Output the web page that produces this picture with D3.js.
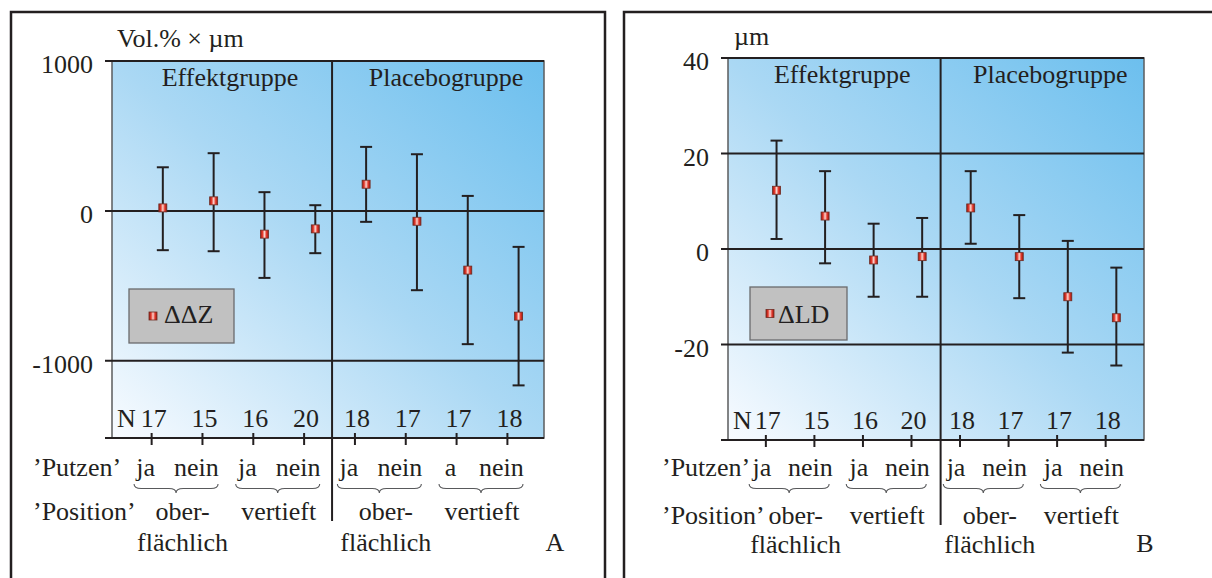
<!DOCTYPE html>
<html>
<head>
<meta charset="utf-8">
<script src="https://cdn.jsdelivr.net/npm/d3@7"></script>
<style>
  html, body { margin: 0; padding: 0; background: #fff; }
  svg { display: block; }
  svg text { font-family: "Liberation Serif", "Times New Roman", Times, "DejaVu Serif", "Noto Serif", serif; }
</style>
</head>
<body>
<svg id="chart" width="1212" height="578"></svg>
<script>
// ---- data ----
const groupNames = ["Effektgruppe", "Placebogruppe"];
const nCounts = [17, 15, 16, 20, 18, 17, 17, 18];
const putzenLabelsA = ["ja", "nein", "ja", "nein", "ja", "nein", "a", "nein"];
const putzenLabelsB = ["ja", "nein", "ja", "nein", "ja", "nein", "ja", "nein"];
const positionLines = [["ober-", "flächlich"], ["vertieft"], ["ober-", "flächlich"], ["vertieft"]];

// A: ΔΔZ (Vol.% × µm) — mean with upper / lower error limits
const meanA  = [20, 67, -155, -120, 178, -69, -395, -702];
const upperA = [291, 385, 125, 38, 427, 378, 100, -240];
const lowerA = [-262, -269, -447, -282, -73, -529, -889, -1164];
const yTicksA = [1000, 0, -1000];

// B: ΔLD (µm)
const meanB  = [12.3, 6.9, -2.3, -1.6, 8.6, -1.6, -10.0, -14.4];
const upperB = [22.7, 16.3, 5.3, 6.5, 16.3, 7.1, 1.7, -3.9];
const lowerB = [2.1, -3.0, -10.0, -10.0, 1.1, -10.3, -21.7, -24.4];
const yTicksB = [40, 20, 0, -20];

// ---- layout ----
const INK = "#231f20";
const FONT = "'Liberation Serif', 'Times New Roman', Times, 'DejaVu Serif', serif";
const svg = d3.select("#chart").attr("font-family", FONT);
const defs = svg.append("defs");

const bg = defs.append("linearGradient").attr("id", "plotBg")
  .attr("x1", 0).attr("y1", 1).attr("x2", 1).attr("y2", 0);
bg.append("stop").attr("offset", 0).attr("stop-color", "#f8fbff");
bg.append("stop").attr("offset", 0.5).attr("stop-color", "#aad8f4");
bg.append("stop").attr("offset", 1).attr("stop-color", "#6cbfee");

const mk = defs.append("linearGradient").attr("id", "markerFill")
  .attr("x1", 0).attr("y1", 0).attr("x2", 1).attr("y2", 0);
[[0, "#9b1b12"], [0.25, "#e2372a"], [0.5, "#fbd6d0"], [0.75, "#e2372a"], [1, "#9b1b12"]]
  .forEach(([o, c]) => mk.append("stop").attr("offset", o).attr("stop-color", c));

const panels = [
  {
    frameX: 11, frameRight: 605,
    plot: { left: 112, right: 544, top: 61, bottom: 438 },
    xDomain: [-1, 7.5], divider: 3.33, dividerEnd: 521,
    yDomain: [-1515, 1000], yTicks: yTicksA,
    mean: meanA, upper: upperA, lower: lowerA, putzen: putzenLabelsA,
    unit: "Vol.% × µm", unitX: 117, unitY: 47,
    legend: { label: "ΔΔZ", x: 129, y: 289, w: 105, h: 54, mx: 153, tx: 164, ty: 323 },
    letter: "A", letterX: 555, letterY: 551,
    rowLabelX: 33, putzenNudge: -6, braceHalf: 42,
    positionY: 520, flaechY: 551
  },
  {
    frameX: 624, frameRight: 1240,
    plot: { left: 728, right: 1144, top: 58, bottom: 440 },
    xDomain: [-1, 7.57], divider: 3.38, dividerEnd: 525,
    yDomain: [-40, 40], yTicks: yTicksB,
    mean: meanB, upper: upperB, lower: lowerB, putzen: putzenLabelsB,
    unit: "µm", unitX: 734, unitY: 45,
    legend: { label: "ΔLD", x: 750, y: 287, w: 97, h: 53, mx: 770, tx: 778, ty: 323 },
    letter: "B", letterX: 1145, letterY: 552,
    rowLabelX: 662, putzenNudge: -4, braceHalf: 40,
    positionY: 524, flaechY: 553
  }
];

function bracePath(x0, x1, yTop, h) {
  const xm = (x0 + x1) / 2, yMid = yTop + h / 2, yTip = yTop + h, r = h * 0.8;
  return `M${x0},${yTop} Q${x0},${yMid} ${x0 + r},${yMid} L${xm - r},${yMid} ` +
         `Q${xm},${yMid} ${xm},${yTip} Q${xm},${yMid} ${xm + r},${yMid} ` +
         `L${x1 - r},${yMid} Q${x1},${yMid} ${x1},${yTop}`;
}

function label(g, x, y, t, anchor) {
  return g.append("text").attr("x", x).attr("y", y)
    .attr("text-anchor", anchor || "start")
    .attr("font-family", FONT).attr("font-size", 26).attr("fill", INK)
    .text(t);
}

panels.forEach(p => {
  const g = svg.append("g");
  const P = p.plot;
  const x = d3.scaleLinear().domain(p.xDomain).range([P.left, P.right]);
  const y = d3.scaleLinear().domain(p.yDomain).range([P.bottom, P.top]);
  const idx = d3.range(nCounts.length);
  const tickX = i => x(i - 0.22);
  const tickLeft = P.left - 7;

  // outer frame
  g.append("path")
    .attr("d", `M${p.frameX},600 L${p.frameX},12 L${p.frameRight},12 L${p.frameRight},600`)
    .attr("fill", "none").attr("stroke", INK).attr("stroke-width", 2.5);

  // plot background
  g.append("rect")
    .attr("x", P.left).attr("y", P.top)
    .attr("width", P.right - P.left).attr("height", P.bottom - P.top)
    .attr("fill", "url(#plotBg)").attr("stroke", "#5b5c5e").attr("stroke-width", 1.5);

  // horizontal grid lines with left ticks (incl. unlabeled bottom tick)
  const gridVals = p.yTicks.concat([p.yDomain[0]]);
  g.selectAll(".grid").data(gridVals).join("line")
    .attr("x1", tickLeft).attr("x2", P.right)
    .attr("y1", d => y(d)).attr("y2", d => y(d))
    .attr("stroke", INK).attr("stroke-width", 2);

  // y tick labels
  p.yTicks.forEach(v => label(g, tickLeft - 12, y(v) + 12, String(v), "end"));

  // unit label
  label(g, p.unitX, p.unitY, p.unit);

  // group divider
  g.append("line")
    .attr("x1", x(p.divider)).attr("x2", x(p.divider))
    .attr("y1", P.top).attr("y2", p.dividerEnd)
    .attr("stroke", INK).attr("stroke-width", 2);

  // group names
  const regions = [[P.left, x(p.divider)], [x(p.divider), P.right]];
  groupNames.forEach((name, i) =>
    label(g, (regions[i][0] + regions[i][1]) / 2 + 8, P.top + 25, name, "middle"));

  // x ticks
  g.selectAll(".xt").data(idx).join("line")
    .attr("x1", tickX).attr("x2", tickX)
    .attr("y1", P.bottom - 5).attr("y2", P.bottom + 7)
    .attr("stroke", INK).attr("stroke-width", 2);

  // N counts
  label(g, P.left + 5, P.bottom - 11, "N");
  nCounts.forEach((n, i) => label(g, tickX(i) + 2, P.bottom - 11, n, "middle"));

  // error bars
  const cap = 6;
  const eb = g.selectAll(".eb").data(idx).join("g");
  eb.append("line")
    .attr("x1", i => x(i)).attr("x2", i => x(i))
    .attr("y1", i => y(p.upper[i])).attr("y2", i => y(p.lower[i]))
    .attr("stroke", INK).attr("stroke-width", 2);
  eb.append("line")
    .attr("x1", i => x(i) - cap).attr("x2", i => x(i) + cap)
    .attr("y1", i => y(p.upper[i])).attr("y2", i => y(p.upper[i]))
    .attr("stroke", INK).attr("stroke-width", 2);
  eb.append("line")
    .attr("x1", i => x(i) - cap).attr("x2", i => x(i) + cap)
    .attr("y1", i => y(p.lower[i])).attr("y2", i => y(p.lower[i]))
    .attr("stroke", INK).attr("stroke-width", 2);

  // mean markers
  const ms = 8;
  g.selectAll(".mk").data(idx).join("rect")
    .attr("x", i => x(i) - ms / 2).attr("y", i => y(p.mean[i]) - ms / 2)
    .attr("width", ms).attr("height", ms)
    .attr("fill", "url(#markerFill)").attr("stroke", "#6e2b22").attr("stroke-width", 0.8);

  // legend
  const L = p.legend;
  g.append("rect").attr("x", L.x).attr("y", L.y).attr("width", L.w).attr("height", L.h)
    .attr("fill", "#c1c1c1").attr("stroke", "#6a6b6d").attr("stroke-width", 1.3);
  g.append("rect").attr("x", L.mx - ms / 2).attr("y", L.y + L.h / 2 - ms / 2)
    .attr("width", ms).attr("height", ms)
    .attr("fill", "url(#markerFill)").attr("stroke", "#6e2b22").attr("stroke-width", 0.8);
  label(g, L.tx, L.ty, L.label);

  // 'Putzen' row
  label(g, p.rowLabelX, 476, "’Putzen’");
  p.putzen.forEach((t, i) => label(g, tickX(i) + p.putzenNudge, 476, t, "middle"));

  // braces under each ja/nein pair
  const pairMid = k => (tickX(2 * k) + tickX(2 * k + 1)) / 2 - 1;
  g.selectAll(".br").data(positionLines).join("path")
    .attr("d", (d, k) => bracePath(pairMid(k) - p.braceHalf, pairMid(k) + p.braceHalf, 484, 9))
    .attr("fill", "none").attr("stroke", "#58595b").attr("stroke-width", 1.1);

  // 'Position' row
  label(g, p.rowLabelX, p.positionY, "’Position’");
  positionLines.forEach((lines, k) => {
    lines.forEach((t, j) => {
      label(g, pairMid(k) + (lines.length > 1 ? 6.5 : 1),
            j === 0 ? p.positionY : p.flaechY, t, "middle");
    });
  });

  // panel letter
  label(g, p.letterX, p.letterY, p.letter, "middle");
});
</script>
</body>
</html>
